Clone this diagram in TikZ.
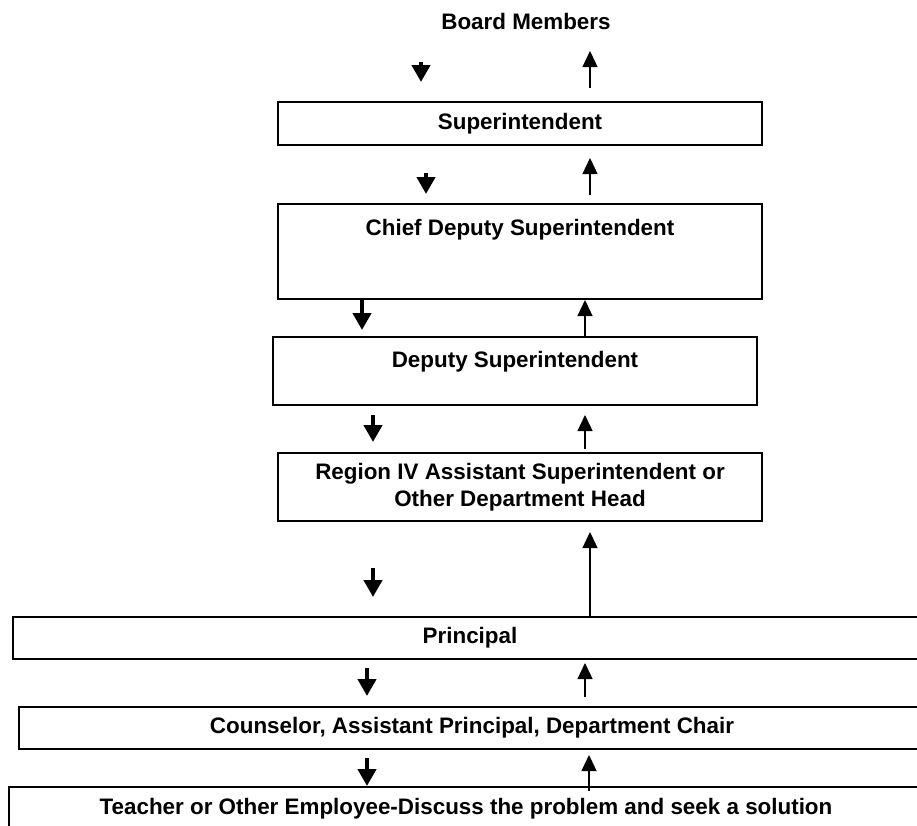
\documentclass[tikz,border=0pt]{standalone}
\usepackage{fontspec}
\setmainfont{Liberation Sans}
\usetikzlibrary{arrows.meta,calc}
\begin{document}
\begin{tikzpicture}[x=1pt,y=-1pt,
  txt/.style={font=\bfseries\fontsize{22.4}{27}\selectfont, align=center},
  box/.style={txt, draw, line width=2pt, inner sep=0pt},
  dn/.style={line width=4.5pt, -{Triangle[width=18pt,length=17pt]}},
  upar/.style={line width=1.3pt, -{Triangle[width=15pt,length=16pt]}}]
\clip (0,0) rectangle (917,825);
\fill[white] (0,0) rectangle (917,825);
% columns
\coordinate (d1) at (421,0);
\coordinate (d2) at (426,0);
\coordinate (d3) at (362,0);
\coordinate (d4) at (373,0);
\coordinate (d6) at (367,0);
\coordinate (u1) at (590,0);
\coordinate (u3) at (585,0);
\coordinate (u7) at (589,0);
% nodes
\node[txt] (board) at (526,21) {Board Members};
\node[box, minimum width=484pt, minimum height=43pt] (sup) at (520,123.5) {Superintendent};
\node[box, anchor=north, minimum width=484pt, text height=31pt, text depth=64pt] (chief) at (520,203) {Chief Deputy Superintendent};
\node[box, anchor=north, minimum width=484pt, text height=30pt, text depth=38pt] (deputy) at (515,336) {Deputy Superintendent};
\node[box, minimum width=484pt, minimum height=68pt] (region) at (520,487) {Region IV Assistant Superintendent or\\Other Department Head};
\node[box, minimum width=914pt, minimum height=42pt] (principal) at (470,638) {Principal};
\node[box, minimum width=906pt, minimum height=42pt] (counselor) at (472,728) {Counselor, Assistant Principal, Department Chair};
\node[box, anchor=north, minimum width=914pt, minimum height=44pt] (teacher) at (466,786) {Teacher or Other Employee-Discuss the problem and seek a solution};
% arrows
\draw[dn] ($(sup.north -| d1)+(0,-39)$) -- ($(sup.north -| d1)+(0,-19)$);
\draw[upar] ($(sup.north -| u1)+(0,-13)$) -- ($(sup.north -| u1)+(0,-50)$);
\draw[dn] ($(chief.north -| d2)+(0,-30)$) -- ($(chief.north -| d2)+(0,-9)$);
\draw[upar] ($(chief.north -| u1)+(0,-8)$) -- ($(chief.north -| u1)+(0,-45)$);
\draw[dn, shorten >=6pt] (chief.south -| d3) -- (deputy.north -| d3);
\draw[upar] (deputy.north -| u3) -- (chief.south -| u3);
\draw[dn, shorten <=9pt, shorten >=10pt] (deputy.south -| d4) -- (region.north -| d4);
\draw[upar, shorten <=3pt, shorten >=9pt] (region.north -| u3) -- (deputy.south -| u3);
\draw[dn, shorten <=46pt, shorten >=19pt] (region.south -| d4) -- (principal.north -| d4);
\draw[upar, shorten >=10pt] (principal.north -| u1) -- (region.south -| u1);
\draw[dn, shorten <=8pt, shorten >=10pt] (principal.south -| d6) -- (counselor.north -| d6);
\draw[upar, shorten <=9pt, shorten >=3pt] (counselor.north -| u3) -- (principal.south -| u3);
\draw[dn, shorten <=8pt] (counselor.south -| d6) -- (teacher.north -| d6);
\draw[upar, shorten <=-5pt, shorten >=5pt] (teacher.north -| u7) -- (counselor.south -| u7);
\end{tikzpicture}
\end{document}
